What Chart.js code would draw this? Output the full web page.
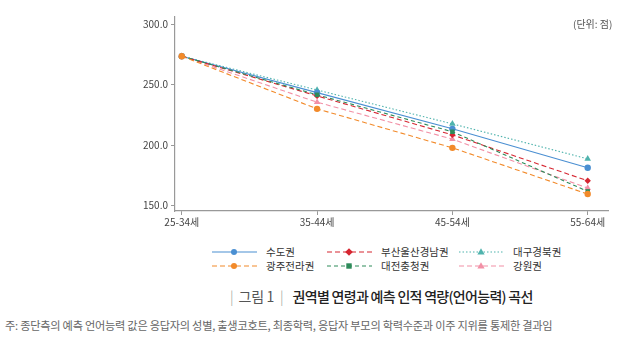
<!DOCTYPE html>
<html>
<head>
<meta charset="utf-8">
<script src="https://cdn.jsdelivr.net/npm/chart.js@4"></script>
<style>
  body { margin: 0; background: #fff; font-family: "Noto Sans CJK KR", sans-serif; }
  #wrap { position: relative; width: 640px; height: 344px; overflow: hidden; }
  #chart { position: absolute; left: 0; top: 0; }
  .unit { position: absolute; left: 573px; top: 16px; font-size: 10px; color: #555; }
  .leg { position: absolute; font-size: 10.5px; color: #333; display: flex; align-items: center; }
  .leg svg { margin-right: 9px; }
  .cap { position: absolute; left: 230px; top: 286px; font-size: 14px; color: #222; white-space: nowrap; }
  .cap .bar { color: #999; font-weight: 300; }
  .cap .num { color: #555; margin: 0 6px 0 5px; letter-spacing: -0.3px; }
  .cap .title { font-weight: 500; margin-left: 9px; letter-spacing: -0.7px; }
  .note { position: absolute; left: 5px; top: 317px; font-size: 11.2px; color: #666; letter-spacing: -0.25px; white-space: nowrap; }
</style>
</head>
<body>
<div id="wrap">
  <canvas id="chart" width="640" height="231"></canvas>
  <div class="unit">(단위: 점)</div>
  <div id="legend"></div>
  <div class="cap"><span class="bar">|</span><span class="num">그림 1</span><span class="bar">|</span><span class="title">권역별 연령과 예측 인적 역량(언어능력) 곡선</span></div>
  <div class="note">주: 종단측의 예측 언어능력 값은 응답자의 성별, 출생코호트, 최종학력, 응답자 부모의 학력수준과 이주 지위를 통제한 결과임</div>
</div>
<script>
const ageGroups = ["25-34세", "35-44세", "45-54세", "55-64세"];
const yTicks = [150, 200, 250, 300];

const sudo = [273.4, 243.3, 213.4, 181.2];
const busan = [273.4, 240.6, 208.4, 170.5];
const daegu = [273.4, 245.5, 217.5, 188.6];
const gwangju = [273.4, 229.9, 197.7, 159.5];
const daejeon = [273.4, 241.5, 211.0, 161.7];
const gangwon = [273.4, 235.4, 204.9, 164.4];

const names = ["수도권", "부산울산경남권", "대구경북권", "광주전라권", "대전충청권", "강원권"];
const series = [sudo, busan, daegu, gwangju, daejeon, gangwon];
const colors = ["#4a8fd2", "#d62631", "#4fb3ad", "#f28a2a", "#2e8b5a", "#f290a6"];
const dashes = [[], [5, 3], [1.5, 2], [5, 3], [4, 3], [5, 3]];
const markers = ["circle", "rectRot", "triangle", "circle", "rect", "triangle"];
const drawOrder = [3, 2, 4, 0, 1, 5];

const datasets = series.map((vals, i) => ({
  label: names[i],
  data: vals.map((v, k) => ({ x: k, y: v })),
  borderColor: colors[i],
  backgroundColor: colors[i],
  borderWidth: 1.1,
  borderDash: dashes[i],
  pointStyle: markers[i],
  pointRadius: markers[i] === "triangle" ? 3.8 : 3.2,
  pointBorderWidth: 0,
  tension: 0,
  order: drawOrder[i]
}));

const tickFont = { family: "'Noto Sans CJK KR', sans-serif", size: 10 };

new Chart(document.getElementById("chart"), {
  type: "line",
  data: { datasets },
  options: {
    responsive: false,
    animation: false,
    layout: { autoPadding: false, padding: { top: 17, right: 32, left: 0, bottom: 0 } },
    plugins: { legend: { display: false }, tooltip: { enabled: false } },
    scales: {
      x: {
        type: "linear",
        min: -0.05,
        max: 3.15,
        afterBuildTicks: s => { s.ticks = ageGroups.map((_, k) => ({ value: k })); },
        afterFit: s => { s.height = 20; },
        ticks: { callback: v => ageGroups[v], color: "#444", font: tickFont, padding: 1, maxRotation: 0 },
        grid: { drawOnChartArea: false, drawTicks: true, tickLength: 4, color: "#999" },
        border: { color: "#999", width: 1.2 }
      },
      y: {
        min: 145.5,
        max: 305.8,
        afterBuildTicks: s => { s.ticks = yTicks.map(v => ({ value: v })); },
        afterFit: s => { s.width = 175; },
        ticks: { callback: v => v.toFixed(1), color: "#444", font: tickFont, padding: 3 },
        grid: { drawOnChartArea: false, drawTicks: true, tickLength: 4, color: "#999" },
        border: { color: "#999", width: 1.2 }
      }
    }
  }
});

// legend, 3 columns x 2 rows
const legCols = [212, 327, 459];
const legRows = [244, 258];
const legend = document.getElementById("legend");
names.forEach((n, i) => {
  const div = document.createElement("div");
  div.className = "leg";
  div.style.left = legCols[i % 3] + "px";
  div.style.top = legRows[Math.floor(i / 3)] + "px";
  const c = colors[i];
  let mk;
  if (markers[i] === "circle") mk = `<circle cx="22" cy="6" r="3" fill="${c}"/>`;
  else if (markers[i] === "rect") mk = `<rect x="19.3" y="3.3" width="5.4" height="5.4" fill="${c}"/>`;
  else if (markers[i] === "rectRot") mk = `<polygon points="22,2.2 25.8,6 22,9.8 18.2,6" fill="${c}"/>`;
  else mk = `<polygon points="22,2.3 25.6,8.6 18.4,8.6" fill="${c}"/>`;
  div.innerHTML = `<svg width="45" height="12"><line x1="0" y1="6" x2="45" y2="6" stroke="${c}" stroke-width="1.1" stroke-dasharray="${dashes[i].join(",")}"/>${mk}</svg><span>${n}</span>`;
  legend.appendChild(div);
});
</script>
</body>
</html>
